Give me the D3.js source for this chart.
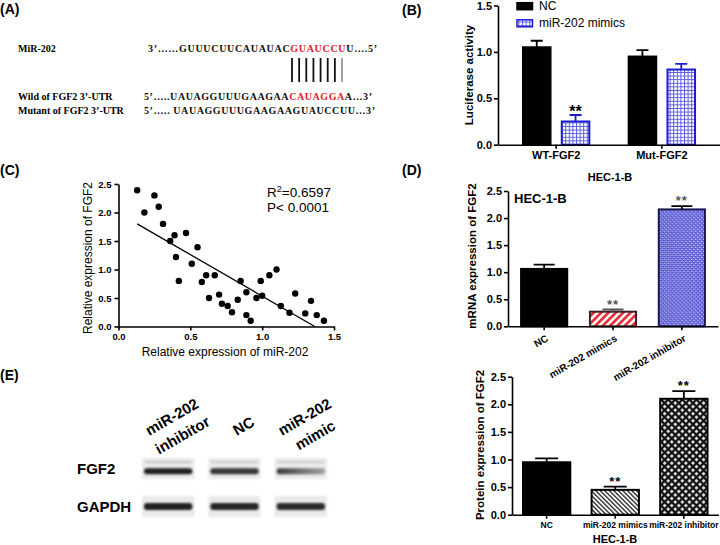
<!DOCTYPE html>
<html><head><meta charset="utf-8">
<script src="https://cdn.jsdelivr.net/npm/d3@7"></script>
<style>body{margin:0;background:#fff}svg{display:block}</style>
</head><body><svg id="fig" width="720" height="545"></svg>
<script>
// ---------------- DATA ----------------
// Panel A (sequence alignment)
const seqNames = ["MiR-202", "Wild of FGF2 3\u2019-UTR", "Mutant of FGF2 3\u2019-UTR"];
const seqParts = [
  [["3\u2019\u2026\u2026GUUUCUUCAUAUAC", false], ["GUAUCCU", true], ["U\u2026.5\u2019", false]],
  [["5\u2019\u2026..UAUAGGUUUGAAGAA", false], ["CAUAGGA", true], ["A\u20263\u2019", false]],
  [["5\u2019\u2026.. UAUAGGUUUGAAGAAGUAUCCUU\u20263\u2019", false]]
];
const pairedBases = ["G-C", "U-A", "A-U", "U-A", "C-G", "C-G", "U-A", "U-A"];

// Panel B
const bGroups = ["WT-FGF2", "Mut-FGF2"];
const bSeries = ["NC", "miR-202 mimics"];
const bNC = [1.05, 0.95];
const bNCErr = [0.07, 0.07];
const bMimics = [0.25, 0.81];
const bMimicsErr = [0.07, 0.06];
const bSig = ["**", ""];
const bYTicks = [0, 0.5, 1.0, 1.5];

// Panel C
const cX = [0.13,0.18,0.25,0.28,0.31,0.36,0.39,0.40,0.42,0.47,0.55,0.51,0.58,0.61,0.67,0.63,0.70,0.72,0.76,0.79,0.83,0.85,0.89,0.89,0.92,0.96,0.99,1.00,1.05,1.10,1.13,1.19,1.23,1.30,1.34,1.38,1.43];
const cY = [2.39,2.00,2.30,2.10,1.80,1.50,1.60,1.22,0.80,1.64,1.39,1.10,0.78,0.90,0.90,0.50,0.56,0.40,0.36,0.25,0.47,0.80,0.60,0.20,0.10,0.50,0.80,0.54,0.90,1.00,0.36,0.24,0.58,0.23,0.45,0.20,0.10];
const cXTicks = [0, 0.5, 1.0, 1.5];
const cYTicks = [0, 0.5, 1.0, 1.5, 2.0, 2.5];
const cR2 = "0.6597";
const cP = "P< 0.0001";

// Panel D
const dCats = ["NC", "miR-202 mimics", "miR-202 inhibitor"];
const dValues = [1.06, 0.27, 2.16];
const dErr = [0.08, 0.04, 0.06];
const dSig = ["", "**", "**"];
const dYTicks = [0, 0.5, 1.0, 1.5, 2.0, 2.5];

// Panel E
const eCats = ["NC", "miR-202 mimics", "miR-202 inhibitor"];
const eValues = [0.95, 0.45, 2.10];
const eErr = [0.07, 0.06, 0.14];
const eSig = ["", "**", "**"];
const eYTicks = [0, 0.5, 1.0, 1.5, 2.0, 2.5];
const blotLanes = [["miR-202", "inhibitor"], ["NC"], ["miR-202", "mimic"]];
const blotRows = ["FGF2", "GAPDH"];
const fgf2BandLeft = [0.95, 0.85, 0.8];
const fgf2BandRight = [0.95, 0.85, 0.35];
const gapdhBand = [0.95, 0.92, 0.9];

// ---------------- DRAW ----------------
const SANS = "'Liberation Sans', Arial, Helvetica, sans-serif";
const SERIF = "'Liberation Serif', 'Times New Roman', serif";
const svg = d3.select("#fig");
svg.append("rect").attr("width", 720).attr("height", 545).attr("fill", "#fff");
const defs = svg.append("defs");

// patterns
(function () {
  let p = defs.append("pattern").attr("id", "blueGrid").attr("patternUnits", "userSpaceOnUse").attr("width", 3.6).attr("height", 3.6);
  p.append("rect").attr("width", 3.6).attr("height", 3.6).attr("fill", "#fff");
  p.append("path").attr("d", "M0,0.5H3.6M0.5,0V3.6").attr("stroke", "#5a5ae0").attr("stroke-width", 1);

  p = defs.append("pattern").attr("id", "redStripes").attr("patternUnits", "userSpaceOnUse").attr("width", 5.2).attr("height", 5.2).attr("patternTransform", "rotate(45)");
  p.append("rect").attr("width", 5.2).attr("height", 5.2).attr("fill", "#fff");
  p.append("rect").attr("width", 2.7).attr("height", 5.2).attr("fill", "#e8303a");

  p = defs.append("pattern").attr("id", "blueDense").attr("patternUnits", "userSpaceOnUse").attr("width", 2.8).attr("height", 2.8).attr("patternTransform", "rotate(45)");
  p.append("rect").attr("width", 2.8).attr("height", 2.8).attr("fill", "#e6e6ff");
  p.append("path").attr("d", "M0,0h1.4v1.4h-1.4zM1.4,1.4h1.4v1.4h-1.4z").attr("fill", "#2a2ac4");
  p.append("rect").attr("width", 2.8).attr("height", 0.6).attr("fill", "#3a3ad0");

  p = defs.append("pattern").attr("id", "blackStripes").attr("patternUnits", "userSpaceOnUse").attr("width", 3.2).attr("height", 3.2).attr("patternTransform", "rotate(-45)");
  p.append("rect").attr("width", 3.2).attr("height", 3.2).attr("fill", "#fff");
  p.append("rect").attr("width", 1.3).attr("height", 3.2).attr("fill", "#222");

  p = defs.append("pattern").attr("id", "blackDiamonds").attr("patternUnits", "userSpaceOnUse").attr("width", 5).attr("height", 5).attr("patternTransform", "rotate(45)");
  p.append("rect").attr("width", 5).attr("height", 5).attr("fill", "#111");
  p.append("rect").attr("x", 1.2).attr("y", 1.2).attr("width", 2.6).attr("height", 2.6).attr("fill", "#fff");

  const f = defs.append("filter").attr("id", "blur").attr("x", "-20%").attr("y", "-80%").attr("width", "140%").attr("height", "260%");
  f.append("feGaussianBlur").attr("stdDeviation", 1.3);
  const f2 = defs.append("filter").attr("id", "blurBox").attr("x", "-10%").attr("y", "-20%").attr("width", "120%").attr("height", "140%");
  f2.append("feGaussianBlur").attr("stdDeviation", 0.8);
})();

function panelLabel(t, x, y) {
  svg.append("text").attr("x", x).attr("y", y).attr("font-family", SANS).attr("font-weight", "bold")
    .attr("font-size", 14).text(t);
}
function styleAxis(g, fs) {
  g.attr("font-family", SANS);
  g.select(".domain").attr("stroke", "#000").attr("stroke-width", 1.6);
  g.selectAll(".tick line").attr("stroke", "#000").attr("stroke-width", 1.6);
  g.selectAll(".tick text").attr("font-family", SANS).attr("font-weight", "bold").attr("font-size", fs).attr("fill", "#000");
}
function yLabel(t, x, y, fs, weight) {
  svg.append("text").attr("transform", `translate(${x},${y}) rotate(-90)`).attr("text-anchor", "middle")
    .attr("font-family", SANS).attr("font-weight", weight).attr("font-size", fs).text(t);
}
const fmt = d3.format(".1f");

// ---- Panel A ----
panelLabel("(A)", 0, 13.5);
const aRows = d3.scaleOrdinal().domain(seqNames).range([52, 100, 114]);
const aSeqStart = d3.scaleOrdinal().domain(seqNames).range([148, 144, 144]);
const aSeqLen = d3.scaleOrdinal().domain(seqNames).range([229, 228, 231]);
seqNames.forEach((n, i) => {
  svg.append("text").attr("x", 18).attr("y", aRows(n)).attr("font-family", SERIF).attr("font-weight", "bold")
    .attr("font-size", 10).text(n);
  const t = svg.append("text").attr("x", aSeqStart(n)).attr("y", aRows(n)).attr("font-family", SERIF)
    .attr("font-weight", "bold").attr("font-size", 10)
    .attr("textLength", aSeqLen(n)).attr("lengthAdjust", "spacing");
  seqParts[i].forEach(([s, red]) => t.append("tspan").attr("fill", red ? "#e0202a" : "#111").text(s));
});
const pairX = d3.scalePoint().domain(d3.range(pairedBases.length)).range([292, 342]);
svg.append("g").selectAll("line").data(pairedBases).join("line")
  .attr("x1", (d, i) => pairX(i)).attr("x2", (d, i) => pairX(i)).attr("y1", 58).attr("y2", 82)
  .attr("stroke", (d, i) => i === pairedBases.length - 1 ? "#666" : "#111").attr("stroke-width", (d, i) => i === pairedBases.length - 1 ? 1.2 : 1.8);

// ---- Panel B ----
panelLabel("(B)", 402, 15);
const bx0 = d3.scaleBand().domain(bGroups).range([498, 720]).paddingInner(0).paddingOuter(0.05);
const bx1 = d3.scaleBand().domain(bSeries).range([0, bx0.bandwidth()]).paddingInner(0.29).paddingOuter(0.507);
const by = d3.scaleLinear().domain([0, 1.5]).range([144.7, 5.5]);
const bData = [];
bGroups.forEach((g, i) => {
  bData.push({ g, s: bSeries[0], v: bNC[i], e: bNCErr[i], sig: "" });
  bData.push({ g, s: bSeries[1], v: bMimics[i], e: bMimicsErr[i], sig: bSig[i] });
});
const bFill = d3.scaleOrdinal().domain(bSeries).range(["#000", "url(#blueGrid)"]);
const bStroke = d3.scaleOrdinal().domain(bSeries).range(["#000", "#1c1cd0"]);
const bGb = svg.append("g");
bGb.selectAll("rect").data(bData).join("rect")
  .attr("x", d => bx0(d.g) + bx1(d.s)).attr("width", bx1.bandwidth())
  .attr("y", d => by(d.v)).attr("height", d => by(0) - by(d.v))
  .attr("fill", d => bFill(d.s)).attr("stroke", d => bStroke(d.s)).attr("stroke-width", 2);
bGb.selectAll("path.err").data(bData).join("path").attr("class", "err")
  .attr("d", d => { const cx = bx0(d.g) + bx1(d.s) + bx1.bandwidth() / 2; return `M${cx},${by(d.v)}V${by(d.v + d.e)}M${cx - 6},${by(d.v + d.e)}H${cx + 6}`; })
  .attr("stroke", d => bStroke(d.s)).attr("stroke-width", 1.8).attr("fill", "none");
bGb.selectAll("text.sig").data(bData.filter(d => d.sig)).join("text").attr("class", "sig")
  .attr("x", d => bx0(d.g) + bx1(d.s) + bx1.bandwidth() / 2).attr("y", d => by(d.v + d.e) + 2)
  .attr("text-anchor", "middle").attr("font-family", SANS).attr("font-weight", "bold").attr("font-size", 16).text(d => d.sig);
const bAxY = svg.append("g").attr("transform", "translate(498,0)")
  .call(d3.axisLeft(by).tickValues(bYTicks).tickFormat(fmt).tickSize(4).tickPadding(2).tickSizeOuter(0));
styleAxis(bAxY, 11);
const bAxX = svg.append("g").attr("transform", `translate(0,${by(0)})`)
  .call(d3.axisBottom(bx0).tickSize(4).tickSizeOuter(0));
styleAxis(bAxX, 11);
yLabel("Luciferase activity", 473, 75, 11.5, "bold");
svg.append("text").attr("x", 610).attr("y", 180.5).attr("text-anchor", "middle").attr("font-family", SANS)
  .attr("font-weight", "bold").attr("font-size", 11).text("HEC-1-B");
// legend
const bLeg = svg.append("g");
const legY = d3.scaleOrdinal().domain(bSeries).range([2.7, 19.8]);
bLeg.selectAll("rect").data(bSeries).join("rect").attr("x", 517).attr("y", d => legY(d)).attr("width", 15.5).attr("height", 7)
  .attr("fill", d => bFill(d)).attr("stroke", d => bStroke(d)).attr("stroke-width", 1.5);
bLeg.selectAll("text").data(bSeries).join("text").attr("x", 539).attr("y", d => legY(d) + 7.5)
  .attr("font-family", SANS).attr("font-size", 12).text(d => d);

// ---- Panel C ----
panelLabel("(C)", 0, 175);
const cx = d3.scaleLinear().domain([0, 1.5]).range([118.5, 334]);
const cy = d3.scaleLinear().domain([0, 2.5]).range([326.5, 184]);
const cPts = cX.map((x, i) => ({ x, y: cY[i] }));
// least squares fit
const mx = d3.mean(cX), my = d3.mean(cY);
const slope = d3.sum(cPts, p => (p.x - mx) * (p.y - my)) / d3.sum(cPts, p => (p.x - mx) ** 2);
const icpt = my - slope * mx;
const xEnd = Math.min(d3.max(cX), -icpt / slope);
const xStart = d3.min(cX);
svg.append("line").attr("x1", cx(xStart)).attr("y1", cy(icpt + slope * xStart))
  .attr("x2", cx(xEnd)).attr("y2", cy(icpt + slope * xEnd)).attr("stroke", "#000").attr("stroke-width", 1.3);
svg.append("g").selectAll("circle").data(cPts).join("circle")
  .attr("cx", d => cx(d.x)).attr("cy", d => cy(d.y)).attr("r", 3.2).attr("fill", "#000");
const cAxY = svg.append("g").attr("transform", `translate(${cx(0)},0)`)
  .call(d3.axisLeft(cy).tickValues(cYTicks).tickFormat(fmt).tickSize(4).tickSizeOuter(0));
styleAxis(cAxY, 9.5);
const cAxX = svg.append("g").attr("transform", `translate(0,${cy(0)})`)
  .call(d3.axisBottom(cx).tickValues(cXTicks).tickFormat(fmt).tickSize(4).tickSizeOuter(0));
styleAxis(cAxX, 9.5);
yLabel("Relative expression of FGF2", 92, 258, 12, "normal");
svg.append("text").attr("x", 225).attr("y", 356).attr("text-anchor", "middle").attr("font-family", SANS)
  .attr("font-size", 12).text("Relative expression of miR-202");
const r2 = svg.append("text").attr("x", 267).attr("y", 196.5).attr("font-family", SANS).attr("font-size", 13.5);
r2.append("tspan").text("R");
r2.append("tspan").attr("dy", -5).attr("font-size", 9).text("2");
r2.append("tspan").attr("dy", 5).text("=" + cR2);
svg.append("text").attr("x", 267).attr("y", 211.5).attr("font-family", SANS).attr("font-size", 13.5).text(cP);

// ---- generic bar panel (D, E) ----
function barPanel(cfg) {
  const x = d3.scaleBand().domain(cfg.cats).range(cfg.xr).paddingInner(cfg.pi).paddingOuter(cfg.po);
  const y = d3.scaleLinear().domain([0, 2.5]).range(cfg.yr);
  const data = cfg.cats.map((c, i) => ({ c, v: cfg.values[i], e: cfg.err[i], sig: cfg.sig[i], i }));
  const g = svg.append("g");
  g.selectAll("rect").data(data).join("rect")
    .attr("x", d => x(d.c)).attr("width", x.bandwidth())
    .attr("y", d => y(d.v)).attr("height", d => y(0) - y(d.v))
    .attr("fill", d => cfg.fills[d.i]).attr("stroke", d => cfg.strokes[d.i]).attr("stroke-width", 2);
  g.selectAll("path").data(data).join("path")
    .attr("d", d => { const c = x(d.c) + x.bandwidth() / 2; return `M${c},${y(d.v)}V${y(d.v + d.e)}M${c - cfg.cap},${y(d.v + d.e)}H${c + cfg.cap}`; })
    .attr("stroke", d => cfg.errColors[d.i]).attr("stroke-width", 1.8).attr("fill", "none");
  g.selectAll("text").data(data.filter(d => d.sig)).join("text")
    .attr("x", d => x(d.c) + x.bandwidth() / 2).attr("y", d => y(d.v + d.e) + cfg.sigDy)
    .attr("text-anchor", "middle").attr("font-family", SANS).attr("font-weight", "bold")
    .attr("font-size", 13).attr("fill", cfg.sigColor).attr("letter-spacing", 1).text(d => d.sig);
  const ay = svg.append("g").attr("transform", `translate(${cfg.xr[0]},0)`)
    .call(d3.axisLeft(y).tickValues(cfg.yTicks).tickFormat(fmt).tickSize(4).tickPadding(2).tickSizeOuter(0));
  styleAxis(ay, 11);
  const ax = svg.append("g").attr("transform", `translate(0,${y(0)})`)
    .call(d3.axisBottom(x).tickSize(4).tickSizeOuter(0));
  styleAxis(ax, cfg.xfs);
  if (cfg.rotate) {
    ax.selectAll(".tick text").attr("x", 0).attr("y", 0).attr("dy", "0.35em")
      .attr("transform", "translate(3,11) rotate(-30)").attr("text-anchor", "end");
  }
  return { x, y };
}

// ---- Panel D ----
panelLabel("(D)", 402, 175);
barPanel({
  cats: dCats, values: dValues, err: dErr, sig: dSig, yTicks: dYTicks,
  xr: [508, 718], pi: 0.33, po: 0.19, yr: [326.3, 191],
  fills: ["#000", "url(#redStripes)", "url(#blueDense)"],
  strokes: ["#000", "#3a2222", "#1a1a50"],
  errColors: ["#000", "#555", "#000"],
  cap: 10.5, sigDy: -1, sigColor: "#555", xfs: 10, rotate: true
});
yLabel("mRNA expression of FGF2", 476, 256, 11.5, "bold");
svg.append("text").attr("x", 514).attr("y", 203).attr("font-family", SANS).attr("font-weight", "bold")
  .attr("font-size", 13).text("HEC-1-B");

// ---- Panel E bar chart ----
barPanel({
  cats: eCats, values: eValues, err: eErr, sig: eSig, yTicks: eYTicks,
  xr: [512, 718.5], pi: 0.31, po: 0.16, yr: [514.7, 376.7],
  fills: ["#000", "url(#blackStripes)", "url(#blackDiamonds)"],
  strokes: ["#000", "#000", "#000"],
  errColors: ["#000", "#000", "#000"],
  cap: 11.5, sigDy: -1, sigColor: "#000", xfs: 8.5, rotate: false
});
yLabel("Protein expression of FGF2", 484, 445, 11.5, "bold");
svg.append("text").attr("x", 615).attr("y", 543).attr("text-anchor", "middle").attr("font-family", SANS)
  .attr("font-weight", "bold").attr("font-size", 11).text("HEC-1-B");

// ---- Panel E western blot ----
panelLabel("(E)", 0, 380);
const laneX = d3.scaleBand().domain(d3.range(blotLanes.length)).range([142, 327]).paddingInner(0.21);
const rowY = d3.scaleBand().domain(blotRows).range([458, 517]).paddingInner(0.447);
const blot = svg.append("g");
blotRows.forEach(r => {
  blot.append("text").attr("x", 77).attr("y", rowY(r) + rowY.bandwidth() / 2).attr("dy", "0.36em")
    .attr("font-family", SANS).attr("font-weight", "bold").attr("font-size", 15).text(r);
});
blotLanes.forEach((lane, i) => {
  const lx = laneX(i), lw = laneX.bandwidth();
  blotRows.forEach(r => {
    blot.append("rect").attr("x", lx).attr("y", rowY(r)).attr("width", lw).attr("height", rowY.bandwidth())
      .attr("fill", "#eaeaea").attr("filter", "url(#blurBox)");
  });
  const gid = "fg" + i;
  const gr = defs.append("linearGradient").attr("id", gid);
  gr.append("stop").attr("offset", "0%").attr("stop-color", "#151515").attr("stop-opacity", fgf2BandLeft[i]);
  gr.append("stop").attr("offset", "100%").attr("stop-color", "#151515").attr("stop-opacity", fgf2BandRight[i]);
  const fy = rowY("FGF2") + rowY.bandwidth() * 0.63;
  blot.append("rect").attr("x", lx + 2).attr("y", fy - 3).attr("width", lw - 4).attr("height", 6).attr("rx", 3)
    .attr("fill", `url(#${gid})`).attr("filter", "url(#blur)");
  blot.append("rect").attr("x", lx + 3).attr("y", rowY("FGF2") + 3).attr("width", lw - 6).attr("height", 2)
    .attr("fill", "#555").attr("opacity", 0.25 * fgf2BandLeft[i]).attr("filter", "url(#blur)");
  const gy = rowY("GAPDH") + rowY.bandwidth() / 2;
  blot.append("rect").attr("x", lx + 2).attr("y", gy - 3.5).attr("width", lw - 4).attr("height", 7).attr("rx", 3)
    .attr("fill", "#151515").attr("opacity", gapdhBand[i]).attr("filter", "url(#blur)");
  const lbl = blot.append("g").attr("transform", `translate(${lx + lw / 2 + 9},${426}) rotate(-30)`);
  lane.forEach((t, j) => {
    lbl.append("text").attr("x", 0).attr("y", (j - (lane.length - 1) / 2) * 21).attr("dy", "0.35em")
      .attr("text-anchor", "middle").attr("font-family", SANS).attr("font-weight", "bold").attr("font-size", 15).text(t);
  });
});
</script></body></html>
